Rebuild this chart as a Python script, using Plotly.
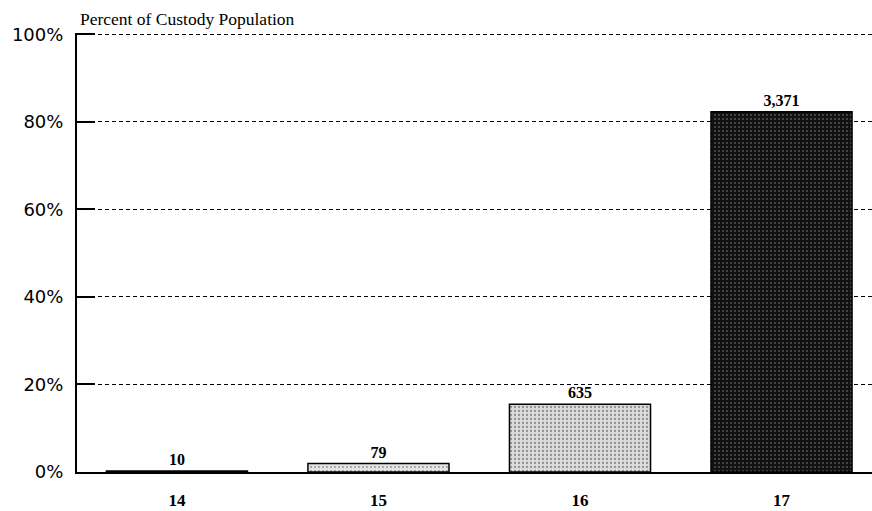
import plotly.graph_objects as go

ages = ["14", "15", "16", "17"]
percent = [0.24, 1.93, 15.5, 82.3]
counts = ["10", "79", "635", "3,371"]
y_ticks = [0, 20, 40, 60, 80, 100]
y_tick_labels = ["0%", "20%", "40%", "60%", "80%", "100%"]

fill_colors = ["#eeeeee", "#e4e4e4", "#dcdcdc", "#111111"]
dot_colors = ["#666666", "#777777", "#3a3a3a", "#d8d8d8"]
dot_solidity = [0.15, 0.2, 0.25, 0.12]

fig = go.Figure()
fig.add_trace(go.Bar(
    x=ages, y=percent,
    text=counts, textposition="outside", cliponaxis=False,
    textfont=dict(family="Liberation Serif", size=16, color="black", weight="bold"),
    marker=dict(
        color=fill_colors,
        line=dict(color="black", width=1.5),
        pattern=dict(shape=".", fgcolor=dot_colors,
                     size=4, solidity=dot_solidity, fillmode="overlay"),
    ),
    width=0.7,
))

fig.update_layout(
    width=872, height=511,
    margin=dict(l=77, r=0, t=33, b=39, autoexpand=False),
    paper_bgcolor="white", plot_bgcolor="white",
    showlegend=False,
    font=dict(family="Liberation Serif", color="black"),
)
fig.update_xaxes(
    type="category", range=[-0.496, 3.449], automargin=False,
    showline=True, linecolor="black", linewidth=2,
    showgrid=False, ticks="", ticklabelstandoff=12,
    tickfont=dict(family="Liberation Serif", size=17, color="black", weight="bold"),
)
fig.update_yaxes(
    range=[0, 100.3], tickvals=y_ticks, ticktext=y_tick_labels, automargin=False,
    showline=True, linecolor="black", linewidth=2,
    showgrid=True, gridcolor="black", gridwidth=1.2, griddash="4px,3px",
    ticks="inside", ticklen=18, tickwidth=2, tickcolor="black",
    tickfont=dict(family="DejaVu Sans", size=18, color="black"),
    ticklabelstandoff=8,
    zeroline=False,
)
fig.add_annotation(
    text="Percent of Custody Population", xref="paper", yref="paper",
    x=0, y=1, xanchor="left", yanchor="bottom", yshift=2, xshift=1,
    showarrow=False, font=dict(family="Liberation Serif", size=17.5, color="black"),
)
fig.write_html(
    "out.html",
    config={"displayModeBar": False},
    post_script="document.body.style.margin='0';document.body.style.overflow='hidden';",
)
